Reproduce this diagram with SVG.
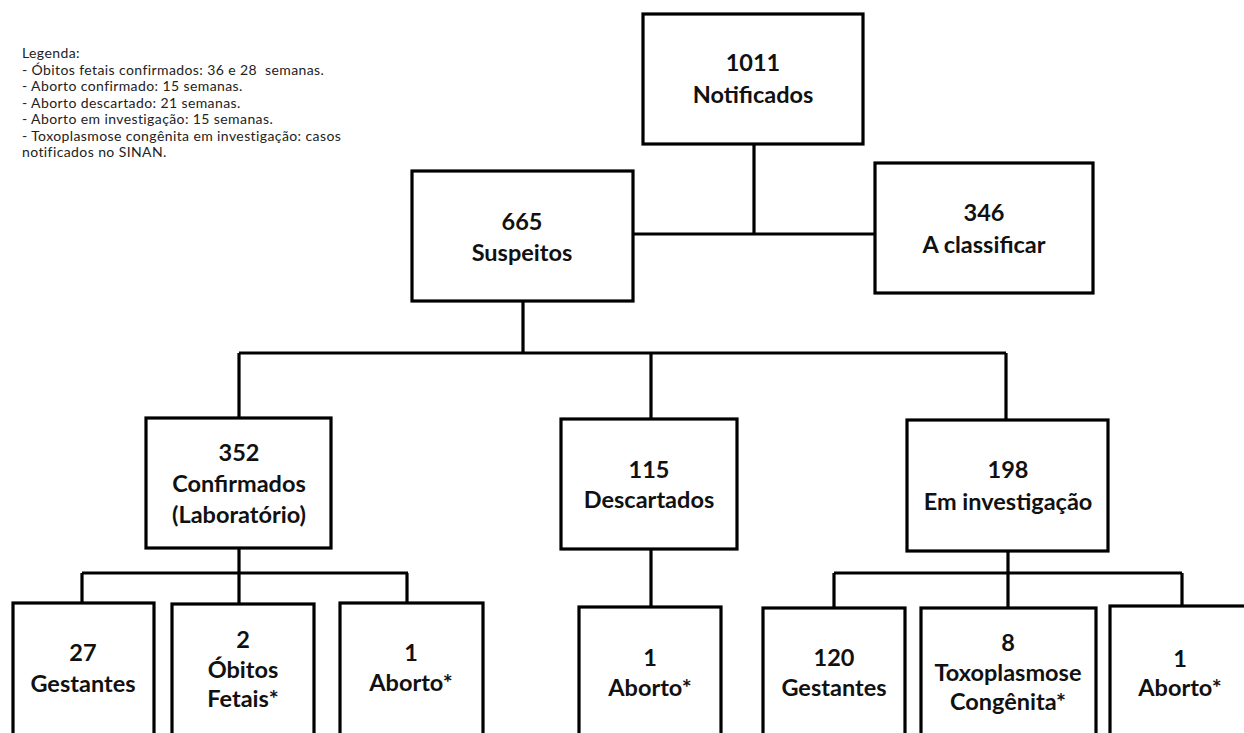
<svg xmlns="http://www.w3.org/2000/svg" width="1244" height="733" viewBox="0 0 1244 733">
<style>
.box{fill:#fff;stroke:#000;stroke-width:3.2}
.lbl{font-family:Lato,"Liberation Sans",sans-serif;font-weight:bold;font-size:23.5px;fill:#111;text-anchor:middle}
.leg{font-family:Lato,"Liberation Sans",sans-serif;font-size:14px;letter-spacing:0.4px;fill:#222}
.con{fill:none;stroke:#000;stroke-width:3.2}
</style>
<rect width="1244" height="733" fill="#fff"/>
<g id="legend" class="leg">
<text x="22" y="58">Legenda:</text>
<text x="22" y="74.5" xml:space="preserve">- Óbitos fetais confirmados: 36 e 28  semanas.</text>
<text x="22" y="91">- Aborto confirmado: 15 semanas.</text>
<text x="22" y="107.5">- Aborto descartado: 21 semanas.</text>
<text x="22" y="124">- Aborto em investigação: 15 semanas.</text>
<text x="22" y="140.5">- Toxoplasmose congênita em investigação: casos</text>
<text x="22" y="157">notificados no SINAN.</text>
</g>
<g id="connectors" class="con">
<path d="M754 144V234M633 234H875"/>
<path d="M523 301V353M239 353H1006M239 353V418M651 353V419M1006 353V420"/>
<path d="M239 548V603M82 573H408M82 573V603M407 573V603"/>
<path d="M651 549V607"/>
<path d="M1008 551V608M834 573H1182M834 573V608M1182 573V606"/>
</g>
<g id="n1011"><rect class="box" x="643" y="14" width="220" height="130"/><text class="lbl" x="753" y="71">1011</text><text class="lbl" x="753" y="103">Notificados</text></g>
<g id="n665"><rect class="box" x="412" y="171" width="221" height="130"/><text class="lbl" x="522" y="230">665</text><text class="lbl" x="522" y="261">Suspeitos</text></g>
<g id="n346"><rect class="box" x="875" y="163" width="218" height="130"/><text class="lbl" x="984" y="221">346</text><text class="lbl" x="984" y="253">A classificar</text></g>
<g id="n352"><rect class="box" x="146" y="418" width="185" height="130"/><text class="lbl" x="239" y="461">352</text><text class="lbl" x="239" y="492">Confirmados</text><text class="lbl" x="239" y="523">(Laboratório)</text></g>
<g id="n115"><rect class="box" x="561" y="419" width="176" height="130"/><text class="lbl" x="649" y="478">115</text><text class="lbl" x="649" y="508">Descartados</text></g>
<g id="n198"><rect class="box" x="907" y="420" width="201" height="131"/><text class="lbl" x="1008" y="478">198</text><text class="lbl" x="1008" y="510">Em investigação</text></g>
<g id="n27"><rect class="box" x="13" y="603" width="141" height="140"/><text class="lbl" x="83" y="661">27</text><text class="lbl" x="83" y="692">Gestantes</text></g>
<g id="n2"><rect class="box" x="172" y="604" width="142" height="140"/><text class="lbl" x="243" y="648">2</text><text class="lbl" x="243" y="678">Óbitos</text><text class="lbl" x="243" y="707">Fetais*</text></g>
<g id="n1a"><rect class="box" x="340" y="603" width="143" height="140"/><text class="lbl" x="411" y="661">1</text><text class="lbl" x="411" y="691">Aborto*</text></g>
<g id="n1b"><rect class="box" x="579" y="607" width="142" height="140"/><text class="lbl" x="650" y="666">1</text><text class="lbl" x="650" y="696">Aborto*</text></g>
<g id="n120"><rect class="box" x="763" y="608" width="142" height="140"/><text class="lbl" x="834" y="666">120</text><text class="lbl" x="834" y="696">Gestantes</text></g>
<g id="n8"><rect class="box" x="921" y="608" width="175" height="140"/><text class="lbl" x="1008" y="651">8</text><text class="lbl" x="1008" y="681">Toxoplasmose</text><text class="lbl" x="1008" y="710">Congênita*</text></g>
<g id="n1c"><rect class="box" x="1110" y="606" width="150" height="140"/><text class="lbl" x="1180" y="667">1</text><text class="lbl" x="1180" y="696">Aborto*</text></g>
</svg>
